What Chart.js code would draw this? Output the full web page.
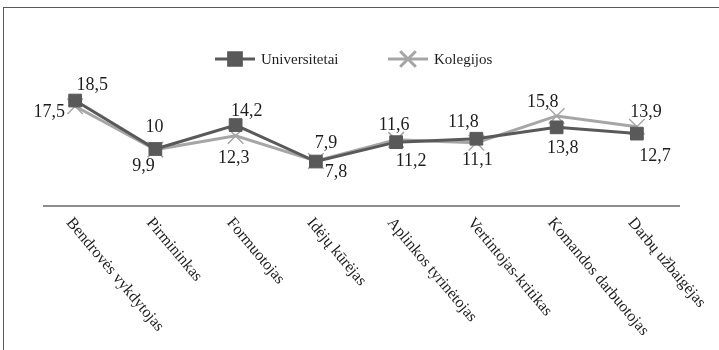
<!DOCTYPE html>
<html lang="lt">
<head>
<meta charset="utf-8">
<title>Komandos vaidmenys</title>
<script src="https://cdn.jsdelivr.net/npm/chart.js@4.4.1/dist/chart.umd.min.js"></script>
<style>
    html, body { margin: 0; padding: 0; background: #fff; }
    #wrap { width: 719px; height: 350px; }
</style>
</head>
<body>
<div id="wrap"><canvas id="grafikas" width="719" height="350"></canvas></div>
<script>
// ======================= DUOMENYS =======================
const kategorijos = [
    'Bendrovės vykdytojas',
    'Pirmininkas',
    'Formuotojas',
    'Idėjų kūrėjas',
    'Aplinkos tyrinėtojas',
    'Vertintojas-kritikas',
    'Komandos darbuotojas',
    'Darbų užbaigėjas',
];
const universitetai = [18.5, 10, 14.2, 7.8, 11.2, 11.8, 13.8, 12.7];
const kolegijos = [17.5, 9.9, 12.3, 7.9, 11.6, 11.1, 15.8, 13.9];

// reikšmių etikečių poslinkiai nuo taško (dx, dy), kad nesusidurtų
const univPoslinkiai = [[17, -15], [-1, -22], [11, -14], [20, 11], [15, 19], [-13, -16], [6, 21], [18, 23]];
const kolPoslinkiai = [[-26, 6], [-12, 17], [-2, 22], [10, -18], [-2, -15], [1, 18], [-14, -14], [9, -15]];

const SERIF = '"Liberation Serif", "DejaVu Serif", serif';
const TAMSI = '#595959';
const SVIESI = '#a6a6a6';

function formatLt(v) {
    return String(v).replace('.', ',');
}

// Rėmelis aplink visą paveikslą
const remelis = {
    id: 'remelis',
    beforeDraw(chart) {
        const { ctx } = chart;
        ctx.save();
        ctx.strokeStyle = '#5a5a5a';
        ctx.lineWidth = 1;
        ctx.strokeRect(3.5, 7.5, chart.width + 20, chart.height + 20);
        ctx.restore();
    },
};

// Horizontali ašies linija (šiek tiek patraukta nuo kairio krašto)
const asiesLinija = {
    id: 'asiesLinija',
    beforeDatasetsDraw(chart) {
        const { ctx, chartArea } = chart;
        ctx.save();
        ctx.strokeStyle = '#8c8c8c';
        ctx.lineWidth = 2;
        ctx.beginPath();
        ctx.moveTo(chartArea.left + 8, chartArea.bottom);
        ctx.lineTo(chartArea.right + 3, chartArea.bottom);
        ctx.stroke();
        ctx.restore();
    },
};

// Legenda: linija su žymekliu + pavadinimas
const legenda = {
    id: 'legenda',
    afterDraw(chart) {
        const { ctx } = chart;
        const y = 59;
        const irasai = [
            { ds: chart.data.datasets[0], x: 215 },
            { ds: chart.data.datasets[1], x: 388 },
        ];
        ctx.save();
        ctx.font = '15px ' + SERIF;
        ctx.textBaseline = 'middle';
        irasai.forEach(({ ds, x }) => {
            ctx.strokeStyle = ds.borderColor;
            ctx.lineWidth = ds.borderWidth;
            ctx.beginPath();
            ctx.moveTo(x, y);
            ctx.lineTo(x + 40, y);
            ctx.stroke();
            Chart.helpers.drawPoint(ctx, {
                pointStyle: ds.pointStyle,
                radius: ds.pointRadius,
                borderWidth: ds.pointBorderWidth,
                rotation: 0,
            }, x + 20, y);
            ctx.fillStyle = ds.pointBackgroundColor;
            ctx.strokeStyle = ds.pointBorderColor;
            ctx.lineWidth = ds.pointBorderWidth;
            if (ds.pointStyle === 'rect') ctx.fill();
            ctx.stroke();
            ctx.fillStyle = '#1e1e1e';
            ctx.fillText(ds.label, x + 46, y + 1);
        });
        ctx.restore();
    },
};

// Reikšmės prie taškų
const reiksmes = {
    id: 'reiksmes',
    afterDatasetsDraw(chart) {
        const { ctx } = chart;
        ctx.save();
        ctx.font = '18px ' + SERIF;
        ctx.fillStyle = '#1e1e1e';
        ctx.textAlign = 'center';
        ctx.textBaseline = 'middle';
        chart.data.datasets.forEach((ds, di) => {
            const meta = chart.getDatasetMeta(di);
            meta.data.forEach((pt, i) => {
                const [dx, dy] = ds.poslinkiai[i];
                ctx.fillText(formatLt(ds.data[i]), pt.x + dx, pt.y + dy);
            });
        });
        ctx.restore();
    },
};

// Kategorijų pavadinimai pasvirę žemyn į dešinę
const kategorijuZymes = {
    id: 'kategorijuZymes',
    afterDraw(chart) {
        const { ctx } = chart;
        const xScale = chart.scales.x;
        const top = chart.chartArea.bottom + 9;
        ctx.save();
        ctx.font = '16px ' + SERIF;
        ctx.fillStyle = '#1e1e1e';
        ctx.textAlign = 'left';
        ctx.textBaseline = 'top';
        chart.data.labels.forEach((lbl, i) => {
            const x = xScale.getPixelForValue(i);
            ctx.save();
            ctx.translate(x, top);
            ctx.rotate(50 * Math.PI / 180);
            ctx.fillText(lbl, 0, 0);
            ctx.restore();
        });
        ctx.restore();
    },
};

document.addEventListener('DOMContentLoaded', () => {
    const ctx = document.getElementById('grafikas').getContext('2d');

    new Chart(ctx, {
        type: 'line',
        data: {
            labels: kategorijos,
            datasets: [
                {
                    label: 'Universitetai',
                    data: universitetai,
                    poslinkiai: univPoslinkiai,
                    borderColor: TAMSI,
                    borderWidth: 3,
                    pointStyle: 'rect',
                    pointRadius: 9,
                    pointBackgroundColor: TAMSI,
                    pointBorderColor: TAMSI,
                    pointBorderWidth: 1,
                    tension: 0,
                },
                {
                    label: 'Kolegijos',
                    data: kolegijos,
                    poslinkiai: kolPoslinkiai,
                    borderColor: SVIESI,
                    borderWidth: 3,
                    pointStyle: 'crossRot',
                    pointRadius: 11,
                    pointBackgroundColor: SVIESI,
                    pointBorderColor: SVIESI,
                    pointBorderWidth: 1.5,
                    tension: 0,
                },
            ],
        },
        options: {
            responsive: false,
            animation: false,
            layout: {
                padding: { left: 35, right: 42, top: 92, bottom: 0 },
            },
            plugins: {
                legend: { display: false },
                tooltip: { enabled: false },
            },
            scales: {
                x: {
                    type: 'category',
                    offset: true,
                    grid: { display: false },
                    ticks: { display: false },
                    border: { display: false },
                    afterFit: (scale) => { scale.height = 144; },
                },
                y: {
                    display: false,
                    min: 0,
                    max: 20,
                },
            },
        },
        plugins: [remelis, asiesLinija, reiksmes, legenda, kategorijuZymes],
    });
});
</script>
</body>
</html>
